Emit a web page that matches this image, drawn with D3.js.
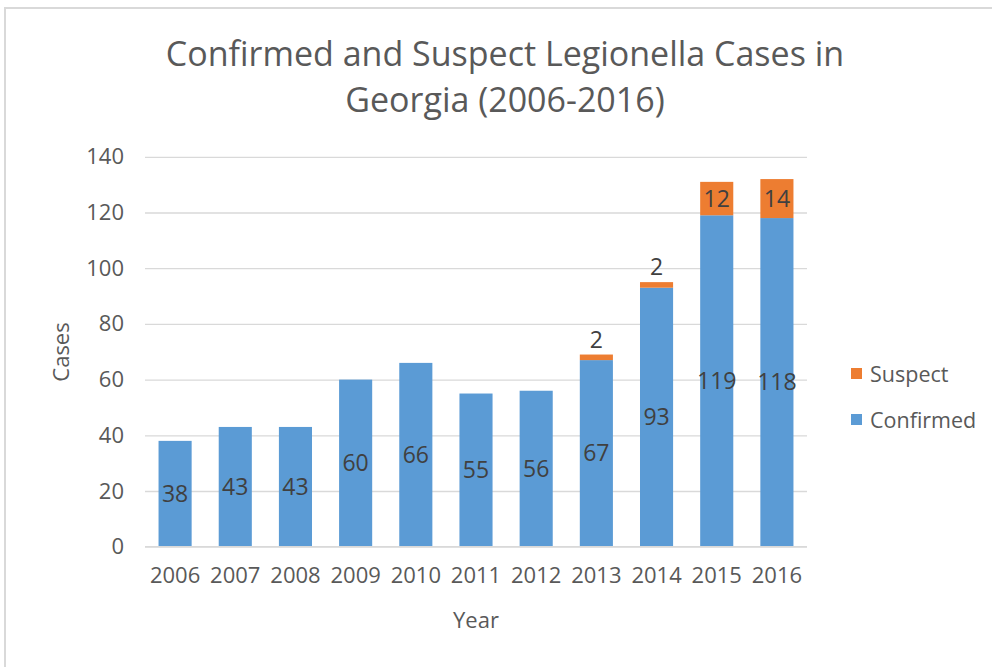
<!DOCTYPE html>
<html><head><meta charset="utf-8">
<script src="https://cdn.jsdelivr.net/npm/d3@7"></script>
<style>body{margin:0;background:#fff;}svg{display:block;}</style>
</head><body>
<svg id="c" width="992" height="667"></svg>
<script>
const years = ["2006","2007","2008","2009","2010","2011","2012","2013","2014","2015","2016"];
const confirmed = [38,43,43,60,66,55,56,67,93,119,118];
const suspect = [0,0,0,0,0,0,0,2,2,12,14];
const yTicks = [0,20,40,60,80,100,120,140];
const seriesNames = ["Suspect","Confirmed"];
const colors = {Confirmed:"#5B9BD5", Suspect:"#ED7D31"};

(function(){
const font = "'Open Sans', sans-serif";
const svg = d3.select("#c");
svg.append("rect").attr("x",5).attr("y",8).attr("width",1000).attr("height",700)
  .attr("fill","#fff").attr("stroke","#d9d9d9").attr("stroke-width",2);

const pL=145, pR=807, pT=156.8, pB=546.7;
const x = d3.scaleBand().domain(years).range([pL,pR]).paddingInner(0.45).paddingOuter(0.225);
const y = d3.scaleLinear().domain([0,140]).range([pB,pT]);

const yAxis = d3.axisLeft(y).tickValues(yTicks).tickSize(-(pR-pL)).tickPadding(21);
const gy = svg.append("g").attr("transform",`translate(${pL},0)`).call(yAxis);
gy.select(".domain").remove();
gy.selectAll(".tick line").attr("stroke","#d9d9d9").attr("stroke-width",1.3);
gy.selectAll(".tick text").attr("font-family",font).attr("font-size",22).attr("fill","#595959");

const data = years.map((yr,i)=>({yr, c:confirmed[i], s:suspect[i]}));
const g = svg.append("g");
g.selectAll(".conf").data(data).join("rect")
  .attr("x",d=>x(d.yr)).attr("width",x.bandwidth())
  .attr("y",d=>y(d.c)).attr("height",d=>y(0)-y(d.c)).attr("fill",colors.Confirmed);
g.selectAll(".sus").data(data.filter(d=>d.s>0)).join("rect")
  .attr("x",d=>x(d.yr)).attr("width",x.bandwidth())
  .attr("y",d=>y(d.c+d.s)).attr("height",d=>y(d.c)-y(d.c+d.s)).attr("fill",colors.Suspect);

const xAxis = d3.axisBottom(x).tickSize(0).tickPadding(21);
const gx = svg.append("g").attr("transform",`translate(0,${pB})`).call(xAxis);
gx.select(".domain").remove();
gx.selectAll(".tick text").attr("font-family",font).attr("font-size",22).attr("fill","#595959");
svg.append("line").attr("x1",pL).attr("x2",pR).attr("y1",pB).attr("y2",pB)
  .attr("stroke","#d9d9d9").attr("stroke-width",1.3);

const lab = svg.append("g").attr("font-family",font).attr("font-size",23).attr("fill","#404040").attr("text-anchor","middle");
lab.selectAll(".cl").data(data).join("text")
  .attr("x",d=>x(d.yr)+x.bandwidth()/2).attr("y",d=>(y(0)+y(d.c))/2).attr("dy","0.35em").text(d=>d.c);
lab.selectAll(".sl").data(data.filter(d=>d.s>0)).join("text")
  .attr("x",d=>x(d.yr)+x.bandwidth()/2)
  .attr("y",d=> d.s<5 ? y(d.c+d.s)-7 : (y(d.c)+y(d.c+d.s))/2)
  .attr("dy",d=> d.s<5 ? "0" : "0.35em").text(d=>d.s);

const t = svg.append("text").attr("font-family",font).attr("font-size",34).attr("fill","#595959").attr("text-anchor","middle");
t.append("tspan").attr("x",505).attr("y",66).text("Confirmed and Suspect Legionella Cases in");
t.append("tspan").attr("x",505).attr("y",112).text("Georgia (2006-2016)");

svg.append("text").attr("font-family",font).attr("font-size",22).attr("fill","#595959")
  .attr("text-anchor","middle").attr("transform","translate(69,352) rotate(-90)").text("Cases");
svg.append("text").attr("font-family",font).attr("font-size",22).attr("fill","#595959")
  .attr("text-anchor","middle").attr("x",476).attr("y",628).text("Year");

const lg = svg.append("g").selectAll("g").data(seriesNames).join("g")
  .attr("transform",(d,i)=>`translate(851,${374+i*46})`);
lg.append("rect").attr("x",0).attr("y",-6).attr("width",11).attr("height",11).attr("fill",d=>colors[d]);
lg.append("text").attr("x",19).attr("y",0).attr("dy","0.35em").attr("font-family",font).attr("font-size",21.5).attr("fill","#595959").text(d=>d);
})();
</script>
</body></html>
